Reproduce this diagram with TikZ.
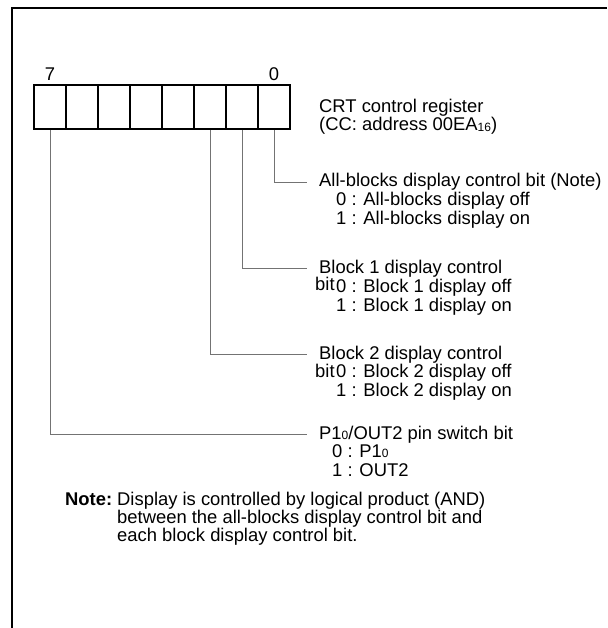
\documentclass[tikz,border=0pt]{standalone}
\usepackage{fontspec}
\setmainfont{Liberation Sans}
\newcommand{\lowidx}[1]{\raisebox{-0.5pt}{\fontsize{12}{12}\selectfont #1}}

\begin{document}
\begin{tikzpicture}[x=1pt, y=-1pt,
  every node/.style={font=\fontsize{18.4}{18.5}\selectfont, inner sep=0pt},
  cell/.style={draw, line width=1.6pt, minimum width=32pt, minimum height=44pt},
  lead/.style={draw=black!55, line width=0.7pt},
  bittitle/.style={anchor=base west, inner xsep=12pt},
  bitval/.style={anchor=base west}]
  \useasboundingbox (0,0) rectangle (607,628);
  \draw[line width=2.4pt] (12,628) -- (12,8) -- (607,8);

  % register cells, bit 0 on the right
  \foreach \b in {0,...,7}
    \node[cell] (c\b) at ({274-32*\b},107) {};
  \node[anchor=base] (n7) at (c7.center |- 0,81) {7};
  \node[anchor=base] (n0) at (c0.center |- 0,81) {0};
  \node[anchor=base west] (reg) at (319,113) {CRT control register};
  \node[anchor=base west] (adr) at (319,131) {(CC: address 00EA\lowidx{16})};

  % bit 0
  \node[bittitle] (t0) at (307,187) {All-blocks display control bit (Note)};
  \node[bitval] (t0a) at (336,205) {0 : All-blocks display off};
  \node[bitval] (t0b) at (336,224) {1 : All-blocks display on};
  % bit 1
  \node[bittitle] (t1) at (307,273) {Block 1 display control};
  \node[bitval] (t1w) at (315,290) {bit};
  \node[bitval] (t1a) at (336,292) {0 : Block 1 display off};
  \node[bitval] (t1b) at (336,311) {1 : Block 1 display on};
  % bit 2
  \node[bittitle] (t2) at (307,359) {Block 2 display control};
  \node[bitval] (t2w) at (315,377) {bit};
  \node[bitval] (t2a) at (336,377) {0 : Block 2 display off};
  \node[bitval] (t2b) at (336,396) {1 : Block 2 display on};
  % bit 7
  \node[bittitle] (t7) at (307,439) {P1\lowidx{0}/OUT2 pin switch bit};
  \node[bitval] (t7a) at (332,457) {0 : P1\lowidx{0}};
  \node[bitval] (t7b) at (332,476) {1 : OUT2};

  \draw[lead] (c0.south) |- (t0.west);
  \draw[lead] (c1.south) |- (t1.west);
  \draw[lead] (c2.south) |- (t2.west);
  \draw[lead] (c7.south) |- (t7.west);

  \node[anchor=base west, font=\fontsize{18.4}{18.5}\selectfont\bfseries] (nt) at (65,505) {Note:};
  \node[anchor=base west] (nt1) at (117,505) {Display is controlled by logical product (AND)};
  \node[anchor=base west] (nt2) at (117,523) {between the all-blocks display control bit and};
  \node[anchor=base west] (nt3) at (117,541) {each block display control bit.};
\end{tikzpicture}
\end{document}
